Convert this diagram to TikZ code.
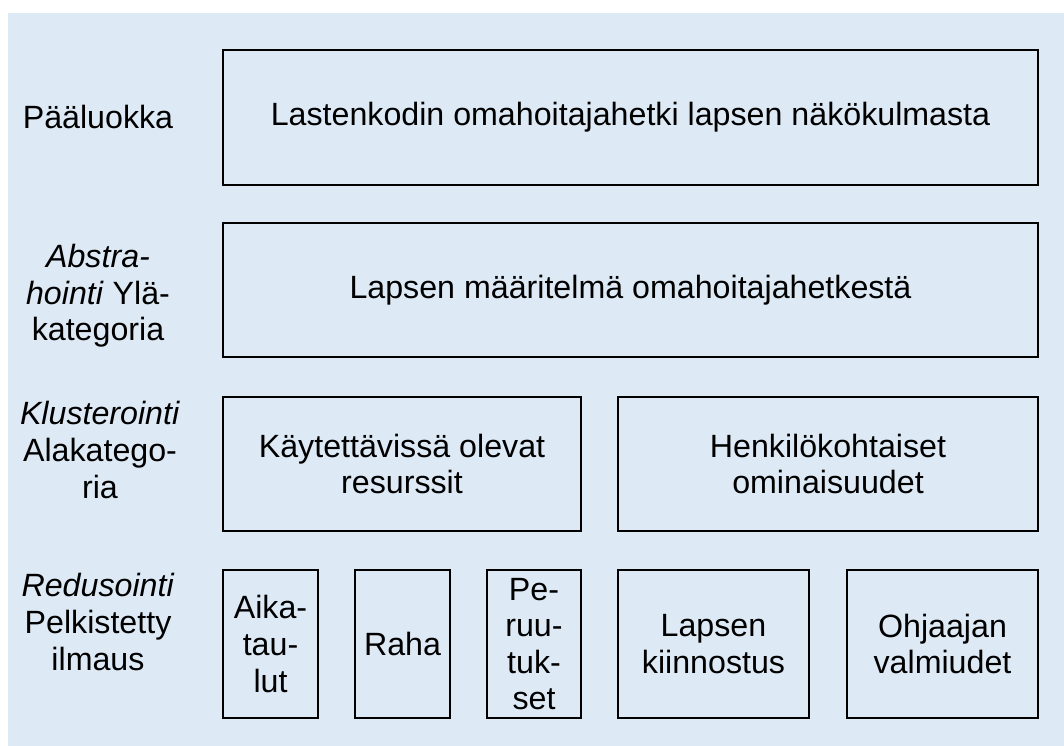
\documentclass[tikz,border=0pt]{standalone}
\usepackage{fontspec}
\setmainfont{Liberation Sans}
\usepackage{tikz}
\usetikzlibrary{positioning}
\usepackage{xcolor}
\definecolor{bgcol}{RGB}{221,233,245}

\begin{document}
\begin{tikzpicture}[
  font=\fontsize{22.9}{26}\selectfont,
  box/.style={draw=black, line width=1.1pt, align=center, inner sep=0pt},
  lbl/.style={align=center, inner sep=0pt}
]
\useasboundingbox (0,0) rectangle (26.6,-18.65);
\fill[bgcol] (0.2,-0.325) rectangle (26.6,-18.65);

% Pääluokka
\node[lbl] (lblA) at (2.45,-2.93) {Pääluokka};
\node[box, minimum width=20.375cm, minimum height=3.375cm] (paa) at (15.7625,-2.9375)
  {Lastenkodin omahoitajahetki lapsen näkökulmasta};

% Yläkategoria
\node[lbl] (lblB) at (2.45,-7.4) {\itshape Abstra-\\\textit{hointi} Ylä-\\kategoria};
\node[box, minimum width=20.375cm, minimum height=3.35cm] (yla) at (15.7625,-7.25)
  {Lapsen määritelmä omahoitajahetkestä};

% Alakategoria
\node[lbl] (lblC) at (2.5,-11.25) {\textit{Klusterointi}\\Alakatego-\\ria};
\node[box, minimum width=8.95cm, minimum height=3.35cm] (resurssit) at (10.05,-11.6)
  {Käytettävissä olevat\\resurssit};
\node[box, minimum width=10.5cm, minimum height=3.35cm] (ominaisuudet) at (20.7,-11.6)
  {Henkilökohtaiset\\ominaisuudet};

% Pelkistetty ilmaus
\node[lbl] (lblD) at (2.45,-15.55) {\textit{Redusointi}\\Pelkistetty\\ilmaus};
\node[box, minimum width=2.375cm, minimum height=3.7cm] (aika) at (6.7625,-16.1)
  {Aika-\\tau-\\lut};
\node[box, minimum width=2.375cm, minimum height=3.7cm] (raha) at (10.0625,-16.1)
  {Raha};
\node[box, minimum width=2.35cm, minimum height=3.7cm] (peru) at (13.35,-16.1)
  {Pe-\\ruu-\\tuk-\\set};
\node[box, minimum width=4.775cm, minimum height=3.7cm] (kiinnostus) at (17.8375,-16.1)
  {Lapsen\\kiinnostus};
\node[box, minimum width=4.775cm, minimum height=3.7cm] (valmiudet) at (23.5625,-16.1)
  {Ohjaajan\\valmiudet};
\end{tikzpicture}
\end{document}
